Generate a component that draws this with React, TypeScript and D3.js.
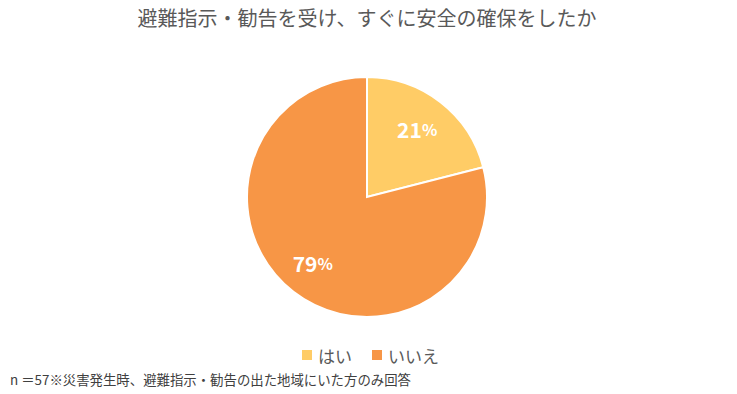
import React from "react";
import * as d3 from "d3";

const categories = ["はい", "いいえ"];
const values = [21, 79];
const colors = ["#FFCC66", "#F79646"];

const title = "避難指示・勧告を受け、すぐに安全の確保をしたか";
const note = "n ＝57※災害発生時、避難指示・勧告の出た地域にいた方のみ回答";

const App = () => {
  const width = 737;
  const height = 394;
  const cx = 367;
  const cy = 197;
  const radius = 120;
  const font = "'Noto Sans CJK JP', 'Noto Sans', sans-serif";

  const data = categories.map((c, i) => ({ category: c, value: values[i] }));
  const total = d3.sum(values);

  const colorScale = d3.scaleOrdinal<string, string>().domain(categories).range(colors);

  // keep the order as drawn: はい starts at 12 o'clock, clockwise
  const pie = d3.pie<{ category: string; value: number }>().value((d) => d.value).sort(null);
  const pieData = pie(data);

  const arc = d3.arc<d3.PieArcDatum<{ category: string; value: number }>>()
    .innerRadius(0)
    .outerRadius(radius);
  const labelArc = d3.arc<d3.PieArcDatum<{ category: string; value: number }>>()
    .innerRadius(radius * 0.71)
    .outerRadius(radius * 0.71);

  // legend layout
  const legendY = 355;
  const legendItems = [
    { x: 302, label: categories[0] },
    { x: 372, label: categories[1] },
  ];

  return (
    <svg
      width={width}
      height={height}
      style={{ position: "absolute", left: 0, top: 0 }}
      fontFamily={font}
    >
      <rect width={width} height={height} fill="#ffffff" />
      <text x={367} y={26} textAnchor="middle" fontSize={20} fill="#595959">
        {title}
      </text>

      <g transform={`translate(${cx},${cy})`}>
        {pieData.map((d) => (
          <path
            key={d.index}
            d={arc(d) || ""}
            fill={colorScale(d.data.category)}
            stroke="#ffffff"
            strokeWidth={2}
          />
        ))}
        {pieData.map((d) => {
          const [x, y] = labelArc.centroid(d);
          return (
            <text
              key={"l" + d.index}
              x={x - 2}
              y={y - 1}
              textAnchor="middle"
              dominantBaseline="central"
              fill="#ffffff"
              fontWeight="bold"
              fontSize={21}
            >
              {Math.round((d.data.value / total) * 100)}
              <tspan fontSize={16}>%</tspan>
            </text>
          );
        })}
      </g>

      {legendItems.map((item, i) => (
        <g key={i}>
          <rect
            x={item.x}
            y={legendY - 5}
            width={10}
            height={10}
            fill={colorScale(item.label)}
          />
          <text
            x={item.x + 16}
            y={legendY}
            dominantBaseline="central"
            fontSize={17}
            fill="#595959"
          >
            {item.label}
          </text>
        </g>
      ))}

      <text x={10} y={385} fontSize={13.4} fill="#404040">
        {note}
      </text>
    </svg>
  );
};

export default App;
